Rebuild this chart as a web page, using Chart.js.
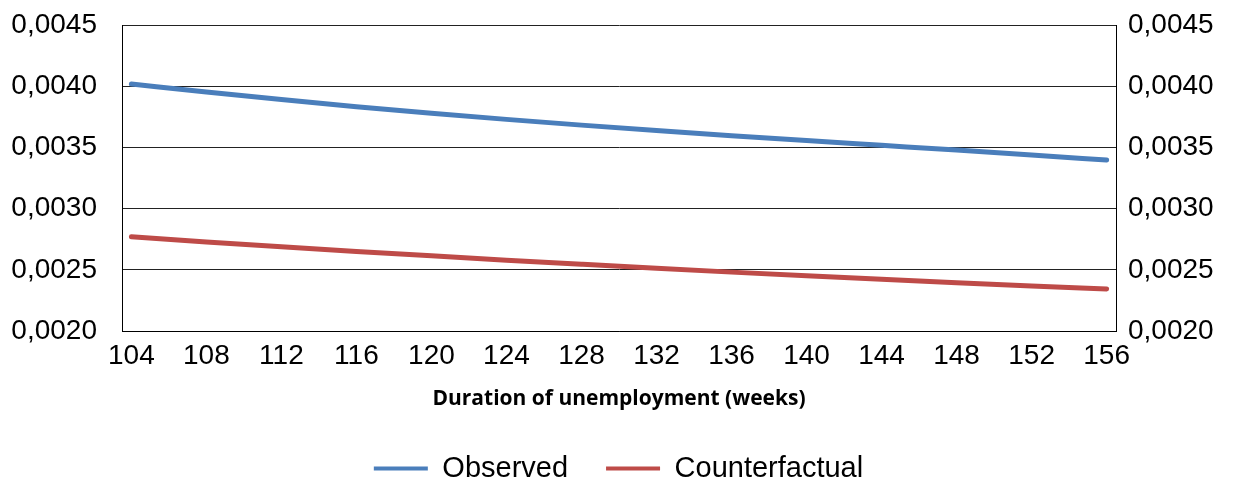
<!DOCTYPE html>
<html>
<head>
<meta charset="utf-8">
<script src="https://cdn.jsdelivr.net/npm/chart.js@4"></script>
<style>
html,body{margin:0;padding:0;background:#fff;}
#wrap{width:1237px;height:482px;}
</style>
</head>
<body>
<div id="wrap"><canvas id="chart"></canvas></div>
<script>
// weeks with a label on the axis
const weeks=[104,108,112,116,120,124,128,132,136,140,144,148,152,156];
// values
const observed=[0.004018,0.003953,0.003891,0.003833,0.003779,0.003729,0.003682,0.003638,0.003596,0.003556,0.003517,0.003478,0.003438,0.003397];
const counterfactual=[0.002770,0.002728,0.002688,0.002650,0.002614,0.002579,0.002545,0.002512,0.002481,0.002451,0.002422,0.002394,0.002368,0.002344];
const yTicks=[0.0020,0.0025,0.0030,0.0035,0.0040,0.0045];

const fontFam='"Liberation Sans", Arial, sans-serif';
const fmt=v=>Number(v).toFixed(4).replace('.',',');

function pts(arr){return weeks.map((w,i)=>({x:w,y:arr[i]}));}

// fixed width, and no extra top/bottom room from tick padding
function fixY(w){return (s)=>{s.width=w;s.paddingTop=0;s.paddingBottom=0;};}

const yCommon={
    min:0.0020,max:0.0045,
    afterBuildTicks:(s)=>{s.ticks=yTicks.map(v=>({value:v}));},
    ticks:{font:{family:fontFam,size:28},color:'#000',callback:fmt}
};

new Chart(document.getElementById('chart'),{
    type:'line',
    data:{datasets:[
        {label:'Observed',data:pts(observed),borderColor:'#4A7EBB',backgroundColor:'#4A7EBB',borderWidth:5,pointRadius:0,cubicInterpolationMode:'monotone',borderCapStyle:'round',yAxisID:'y'},
        {label:'Counterfactual',data:pts(counterfactual),borderColor:'#BE4B48',backgroundColor:'#BE4B48',borderWidth:5,pointRadius:0,cubicInterpolationMode:'monotone',borderCapStyle:'round',yAxisID:'y'}
    ]},
    options:{
        responsive:true,maintainAspectRatio:false,animation:false,
        layout:{padding:{left:0,right:0,top:25,bottom:-11}},
        plugins:{
            tooltip:{enabled:false},
            legend:{position:'bottom',
                labels:{font:{family:fontFam,size:29},color:'#000',boxWidth:54,boxHeight:4,padding:38,
                    generateLabels:(c)=>Chart.defaults.plugins.legend.labels.generateLabels(c).map(l=>Object.assign(l,{lineWidth:0}))}}
        },
        scales:{
            x:{type:'linear',min:103.5,max:156.5,
                afterBuildTicks:(s)=>{s.ticks=weeks.map(v=>({value:v}));},
                afterFit:(s)=>{s.height=85;},
                grid:{display:false,drawTicks:false},
                border:{display:true,color:'#000',width:1},
                ticks:{font:{family:fontFam,size:28},color:'#000',padding:8,maxRotation:0,autoSkip:false},
                title:{display:true,text:'Duration of unemployment (weeks)',font:{family:'"Open Sans", sans-serif',size:21,weight:'bold'},color:'#000',padding:{top:0,bottom:4}}
            },
            y:Object.assign({},yCommon,{position:'left',
                afterFit:fixY(122),
                grid:{color:'#222',lineWidth:1,drawTicks:false},
                border:{display:true,color:'#000',width:1},
                ticks:Object.assign({},yCommon.ticks,{padding:25})
            }),
            y2:Object.assign({},yCommon,{position:'right',
                afterFit:fixY(121),
                grid:{display:false,drawTicks:false},
                border:{display:true,color:'#000',width:1},
                ticks:Object.assign({},yCommon.ticks,{padding:12})
            })
        }
    }
});
</script>
</body>
</html>
